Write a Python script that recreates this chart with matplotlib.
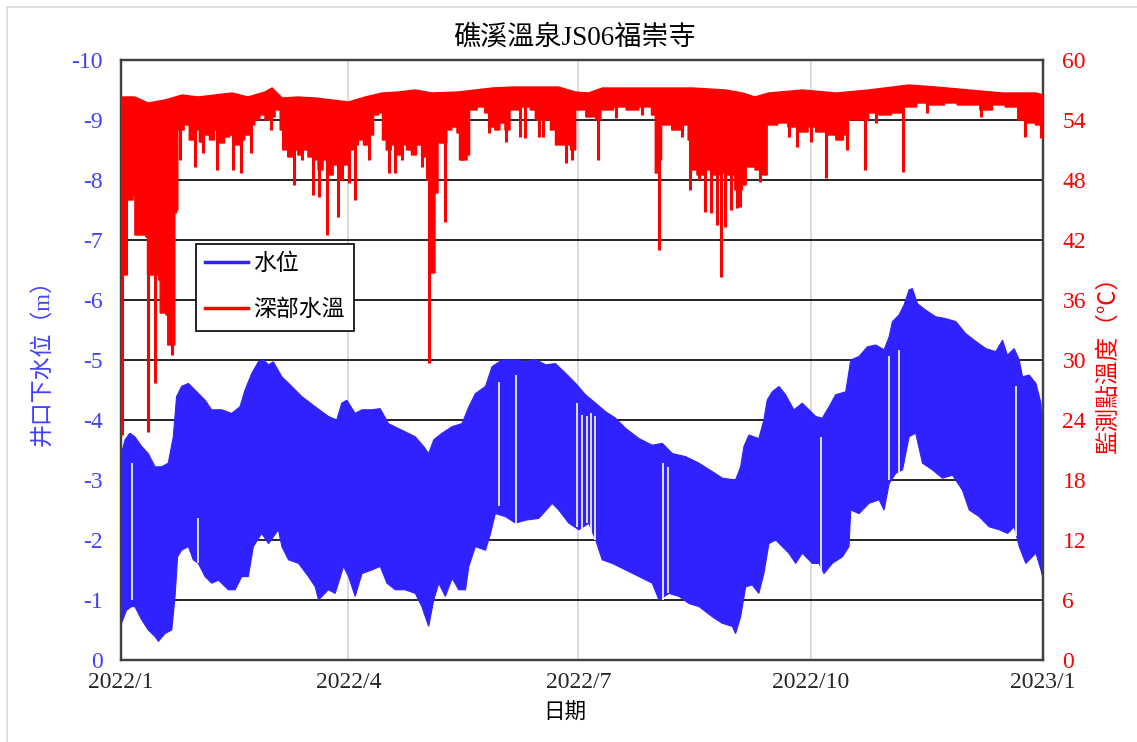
import numpy as np
import matplotlib
matplotlib.use('Agg')
import matplotlib.pyplot as plt
import matplotlib.dates as mdates
from matplotlib.lines import Line2D
from matplotlib.patches import Rectangle
from datetime import datetime

plt.rcParams['font.family'] = ['Liberation Serif', 'Noto Sans CJK TC']
plt.rcParams['axes.unicode_minus'] = False

# ---- data (days counted from 2022/1/1) ----
title = '礁溪溫泉JS06福崇寺'
x_label = '日期'
left_label = '井口下水位（m）'
right_label = '監測點溫度（℃）'
series_names = ['水位', '深部水溫']

tick_dates = [datetime(2022, 1, 1), datetime(2022, 4, 1), datetime(2022, 7, 1),
              datetime(2022, 10, 1), datetime(2023, 1, 1)]
tick_labels = ['2022/1', '2022/4', '2022/7', '2022/10', '2023/1']
level_ticks = [0, -1, -2, -3, -4, -5, -6, -7, -8, -9, -10]
temp_ticks = [0, 6, 12, 18, 24, 30, 36, 42, 48, 54, 60]

# water level, upper envelope (m below wellhead)
level_top_days = [0.2, 1.6, 3.5, 5.5, 8.2, 10.8, 13.5, 16.1, 18.7, 20.7, 22.0, 24.0, 26.7, 29.3,
                  33.3, 35.9, 39.9, 43.8, 47.1, 49.1, 51.8, 54.4, 56.4, 58.4, 60.3, 63.7, 67.6,
                  71.6, 76.9, 82.1, 85.4, 87.4, 89.4, 92.7, 95.4, 99.3, 102.6, 105.9, 111.2,
                  116.5, 119.8, 121.8, 123.8, 127.1, 131.1, 135.0, 137.7, 140.3, 144.3, 146.9,
                  150.9, 156.2, 160.1, 164.1, 168.1, 172.0, 176.0, 180.0, 183.9, 187.9, 191.8,
                  195.8, 199.8, 205.1, 210.3, 214.3, 218.3, 223.5, 228.8, 234.1, 238.1, 243.3,
                  245.3, 246.6, 248.6, 250.6, 252.5, 254.5, 255.8, 257.8, 260.5, 263.1, 266.4,
                  269.7, 272.4, 275.0, 277.6, 280.3, 282.9, 286.9, 288.9, 292.2, 295.5, 298.8,
                  302.1, 304.1, 305.4, 308.0, 310.0, 312.0, 313.3, 315.3, 318.6, 322.6, 326.5,
                  330.5, 334.4, 338.4, 342.4, 346.3, 349.0, 350.9, 353.6, 355.6, 356.9, 359.5,
                  362.2, 364.2, 364.8]
level_top = [3.44, 3.67, 3.78, 3.72, 3.56, 3.44, 3.22, 3.22, 3.28, 3.72, 4.39, 4.56, 4.61, 4.50,
             4.33, 4.17, 4.17, 4.11, 4.22, 4.50, 4.78, 4.97, 5.00, 4.92, 4.97, 4.72, 4.56,
             4.39, 4.22, 4.06, 4.00, 4.28, 4.33, 4.11, 4.17, 4.17, 4.19, 3.94, 3.83,
             3.72, 3.56, 3.44, 3.67, 3.78, 3.89, 3.94, 4.22, 4.44, 4.56, 4.89,
             5.00, 5.00, 4.97, 5.01, 4.92, 4.94, 4.78, 4.61, 4.42, 4.28, 4.14,
             4.03, 3.86, 3.69, 3.58, 3.61, 3.44, 3.39, 3.28, 3.14, 3.03, 3.00,
             3.22, 3.56, 3.75, 3.72, 3.69, 4.00, 4.33, 4.47, 4.56, 4.42, 4.17,
             4.28, 4.17, 4.06, 4.03, 4.22, 4.42, 4.47, 5.00, 5.06, 5.22, 5.25,
             5.17, 5.39, 5.64, 5.75, 5.92, 6.17, 6.19, 5.94, 5.83, 5.72, 5.69,
             5.64, 5.44, 5.31, 5.19, 5.14, 5.33, 5.08, 5.19, 5.00, 4.72, 4.75,
             4.61, 4.28, 3.78]

# water level, lower envelope
level_low_days = [0.2, 2.2, 4.2, 5.5, 8.2, 10.8, 13.5, 14.8, 17.4, 20.1, 21.4, 22.4, 24.0, 26.7,
                  28.6, 30.6, 33.3, 35.9, 38.6, 42.5, 45.2, 47.8, 50.4, 52.4, 55.7, 58.4, 62.3,
                  63.7, 66.3, 70.3, 74.2, 76.9, 78.2, 82.1, 84.8, 88.1, 90.1, 92.7, 95.4, 99.3,
                  102.6, 105.3, 108.6, 112.5, 116.5, 119.1, 121.8, 123.8, 125.8, 128.4, 131.1,
                  133.7, 136.4, 137.7, 140.3, 144.3, 146.3, 148.2, 152.2, 156.2, 160.1, 165.4,
                  170.7, 173.3, 177.3, 181.3, 185.2, 187.9, 190.5, 194.5, 199.8, 205.1, 210.3,
                  213.0, 216.9, 220.9, 224.9, 228.8, 234.1, 238.1, 242.0, 243.3, 245.3, 247.3,
                  249.9, 252.5, 254.5, 256.5, 259.2, 261.8, 264.4, 267.1, 269.7, 273.7, 276.3,
                  278.3, 281.6, 285.6, 288.2, 288.9, 292.2, 296.1, 300.1, 302.1, 304.1, 306.7,
                  309.4, 312.0, 314.6, 317.3, 321.2, 325.2, 329.2, 333.1, 335.8, 339.7, 343.7,
                  347.7, 351.0, 353.6, 355.6, 358.2, 362.2, 364.2, 364.8]
level_low = [0.61, 0.83, 0.89, 0.89, 0.67, 0.50, 0.39, 0.31, 0.44, 0.50, 1.06, 1.72, 1.83, 1.89,
             1.67, 1.61, 1.39, 1.28, 1.33, 1.17, 1.17, 1.39, 1.39, 1.89, 2.11, 1.94, 2.17,
             1.89, 1.67, 1.61, 1.39, 1.22, 1.00, 1.17, 1.11, 1.56, 1.39, 1.06, 1.44, 1.50,
             1.56, 1.28, 1.17, 1.17, 1.11, 0.89, 0.56, 1.00, 1.28, 1.06, 1.36,
             1.17, 1.17, 1.56, 1.89, 1.83, 2.11, 2.44, 2.39, 2.28, 2.33, 2.36,
             2.61, 2.50, 2.28, 2.17, 2.28, 2.00, 1.67, 1.61, 1.50, 1.39, 1.28,
             1.00, 1.11, 1.06, 0.94, 0.89, 0.72, 0.61, 0.56, 0.44, 0.72, 1.22,
             1.25, 1.11, 1.44, 1.94, 2.00, 1.89, 1.78, 1.61, 1.78, 1.61, 1.61,
             1.44, 1.61, 1.72, 1.89, 2.50, 2.44, 2.61, 2.67, 2.50, 2.94, 3.11,
             3.17, 3.72, 3.78, 3.28, 3.17, 3.03, 3.08, 2.83, 2.50, 2.39, 2.22,
             2.17, 2.11, 2.22, 1.89, 1.61, 1.78, 1.50, 1.40]

# short breaks in the water level record: day, top, bottom (m)
gap_days = [4.5, 30.4, 149.5, 156.4, 180.6, 182.6, 184.6, 185.9, 187.6, 214.6, 216.5,
            277.0, 304.1, 308.0, 354.3]
gap_top = [3.28, 2.36, 4.64, 4.75, 4.28, 4.08, 4.06, 4.11, 4.06, 3.28, 3.22,
           3.72, 5.06, 5.17, 4.56]
gap_bottom = [1.00, 1.61, 2.56, 2.22, 2.22, 2.17, 2.28, 2.11, 2.00, 1.00, 1.11,
              1.44, 3.00, 3.08, 2.06]

# deep water temperature, upper envelope (degC)
temp_top_days = [0.0, 5.5, 10.7, 17.4, 24.2, 30.5, 37.3, 44.0, 50.3, 57.0, 59.8, 63.8, 70.1,
                 76.9, 83.6, 90.0, 96.7, 103.4, 109.8, 116.5, 123.2, 133.5, 147.0, 155.0,
                 166.8, 173.2, 179.9, 185.0, 190.6, 199.7, 212.8, 226.3, 239.4, 246.1, 251.0,
                 256.4, 269.9, 283.0, 296.0, 311.9, 322.6, 335.7, 349.1, 362.2, 365.0]
temp_top = [56.3, 56.3, 55.7, 56.0, 56.5, 56.3, 56.5, 56.7, 56.3, 56.8, 57.2, 56.2, 56.3,
            56.2, 56.0, 55.8, 56.3, 56.7, 56.8, 57.0, 56.7, 56.8, 57.2, 57.3,
            57.3, 57.3, 56.8, 56.7, 57.2, 57.2, 57.2, 57.2, 57.0, 56.7, 56.3,
            56.7, 57.0, 56.7, 57.0, 57.5, 57.3, 57.0, 56.7, 56.7, 56.5]

# deep water temperature, lower edge of the dense band
temp_low_days = [0.0, 1.8, 2.5, 4.8, 5.5, 9.8, 10.5, 14.8, 15.5, 17.8, 18.5, 21.0, 21.3, 22.0,
                 22.5, 25.0, 27.0, 29.0, 31.0, 33.0, 35.0, 37.0, 39.0, 41.0, 43.0, 45.0,
                 47.0, 49.0, 51.0, 53.0, 55.0, 57.0, 59.0, 61.0, 63.0, 64.0, 66.0, 68.0,
                 70.0, 72.0, 74.0, 76.0, 78.0, 80.0, 82.0, 84.0, 86.0, 88.0, 90.0, 92.0,
                 94.0, 96.0, 98.0, 100.0, 102.0, 103.5, 105.0, 107.0, 109.0, 111.0, 113.0,
                 115.0, 117.0, 119.0, 121.0, 122.0, 123.8, 124.3, 125.5, 127.5, 129.0,
                 131.0, 133.0, 134.0, 137.0, 138.0, 141.0, 144.0, 146.0, 148.0, 150.0,
                 152.0, 154.0, 158.0, 162.0, 164.0, 168.0, 170.0, 172.0, 175.0, 178.0,
                 180.0, 184.0, 188.0, 190.0, 195.0, 200.0, 205.0, 210.0, 211.5, 213.5,
                 214.0, 218.0, 222.0, 224.5, 225.5, 228.0, 231.0, 234.0, 237.0, 240.0,
                 243.0, 246.0, 247.5, 251.0, 254.0, 255.8, 260.0, 264.0, 268.0, 272.0,
                 275.0, 279.0, 283.0, 286.0, 288.0, 293.0, 296.0, 300.0, 305.0, 309.0,
                 315.0, 320.0, 326.0, 331.0, 336.0, 340.0, 345.0, 350.0, 355.0, 358.0,
                 362.0, 365.0]
temp_low = [38.5, 38.5, 46.0, 46.5, 42.5, 42.3, 38.5, 38.0, 34.7, 34.5, 31.5, 31.5, 44.7, 45.0,
            53.0, 53.5, 52.0, 53.0, 51.8, 52.5, 52.0, 53.0, 51.7, 52.3, 52.5, 51.5,
            52.0, 52.5, 53.5, 54.0, 54.5, 54.0, 54.3, 55.0, 53.0, 51.0, 50.3, 51.0,
            50.5, 51.0, 50.3, 50.0, 49.0, 50.0, 48.5, 49.5, 48.0, 49.5, 51.0, 51.5,
            52.0, 51.5, 52.5, 54.5, 54.7, 52.0, 51.0, 51.5, 50.5, 51.5, 51.0,
            50.5, 51.5, 50.3, 48.0, 38.7, 38.7, 46.7, 51.7, 51.7, 53.0,
            53.3, 52.7, 50.0, 50.5, 55.0, 55.3, 54.7, 53.3, 53.0, 53.7,
            53.0, 55.0, 55.3, 55.0, 54.0, 54.0, 53.0, 51.5, 51.5, 51.0,
            55.0, 54.3, 54.0, 55.0, 55.3, 55.0, 55.3, 54.5, 48.7, 50.0,
            53.5, 53.0, 53.5, 52.0, 49.0, 48.5, 49.0, 48.5, 48.7, 48.5,
            47.0, 47.5, 49.3, 49.0, 48.5, 53.5, 53.7, 53.3, 52.8, 53.3,
            52.8, 52.5, 52.0, 52.5, 54.0, 54.0, 54.7, 54.5, 54.7, 55.3,
            55.7, 55.5, 55.7, 55.5, 55.5, 55.0, 55.5, 55.3, 54.0, 53.7,
            53.5, 53.0]

# isolated downward temperature spikes: day, minimum (degC)
spike_days = [0.5, 10.7, 13.5, 20.3, 23.4, 29.3, 32.6, 37.9, 44.5, 47.5, 51.5, 59.4, 68.3,
              71.6, 76.2, 78.2, 81.5, 86.1, 90.1, 92.7, 98.0, 105.9, 108.6, 111.2, 119.1,
              122.1, 128.4, 135.0, 145.6, 152.5, 158.1, 160.1, 165.4, 167.0, 176.0, 178.6,
              188.9, 195.8, 206.4, 213.0, 222.2, 225.3, 228.8, 231.2, 233.4, 236.1, 237.7,
              239.0, 241.4, 244.0, 245.0, 252.8, 264.4, 267.7, 273.0, 279.0, 287.6, 294.6,
              298.8, 309.6, 318.9, 340.4, 358.0, 364.2]
spike_temp = [22.5, 22.8, 27.7, 30.5, 50.0, 49.3, 50.7, 49.0, 49.0, 48.7, 50.7, 53.0, 47.5,
              50.0, 46.5, 46.3, 42.5, 44.3, 47.7, 46.0, 50.0, 48.7, 48.7, 50.0, 49.3,
              29.7, 43.8, 50.0, 52.7, 51.8, 52.3, 52.2, 52.3, 52.3, 49.7, 50.0,
              50.0, 54.2, 54.5, 41.0, 52.3, 47.0, 48.0, 44.8, 44.7, 43.5, 38.3,
              43.3, 45.0, 45.2, 45.3, 47.8, 52.3, 51.3, 51.8, 48.2, 51.0, 49.0,
              53.7, 48.8, 54.7, 54.3, 52.3, 52.2]

blue = '#3022ff'
red = '#ff0000'
blue_text = '#4040ff'

t0 = mdates.date2num(datetime(2022, 1, 1))
def to_x(days):
    return t0 + np.asarray(days, dtype=float)

fig = plt.figure(figsize=(11.37, 7.42), dpi=100)
ax = fig.add_axes([121 / 1137, 82 / 742, 922 / 1137, 600 / 742])
ax2 = ax.twinx()

# water level band
poly_x = np.concatenate([to_x(level_top_days), to_x(level_low_days)[::-1]])
poly_y = np.concatenate([-np.array(level_top), -np.array(level_low)[::-1]])
ax.fill(poly_x, poly_y, color=blue, lw=0.8, zorder=3)
ax.vlines(to_x(gap_days), -np.array(gap_top), -np.array(gap_bottom),
          color='white', lw=1.2, zorder=4)

# temperature band (lower edge drawn as steps) + spikes
low_x = np.repeat(to_x(temp_low_days), 2)[1:]
low_y = np.repeat(temp_low, 2)[:-1]
tx = np.concatenate([to_x(temp_top_days), low_x[::-1]])
ty = np.concatenate([temp_top, low_y[::-1]])
ax2.fill(tx, ty, color=red, lw=1.0, zorder=3)
top_at_spike = np.interp(spike_days, temp_top_days, temp_top)
ax2.vlines(to_x(spike_days), spike_temp, top_at_spike, color=red, lw=2.2, zorder=3)

# axes setup
ax.set_xlim(t0, t0 + 365)
ax.set_ylim(0, -10)
ax2.set_ylim(0, 60)
ax.set_xticks([mdates.date2num(d) for d in tick_dates])
ax.set_xticklabels(tick_labels, fontsize=17, color='#262626')
ax.set_yticks(level_ticks)
ax.set_yticklabels([str(v) for v in level_ticks], fontsize=17, color=blue_text)
ax2.set_yticks(temp_ticks)
ax2.set_yticklabels([str(v) for v in temp_ticks], fontsize=17, color=red)
ax.tick_params(axis='x', length=0, pad=9)
ax.tick_params(axis='y', length=0, pad=13)
ax2.tick_params(axis='y', length=0, pad=14)

ax.set_axisbelow(True)
ax.grid(axis='y', color='black', lw=1.2, zorder=1)
ax.grid(axis='x', color='#d9d9d9', lw=1.3, zorder=0)
for a in (ax, ax2):
    for s in a.spines.values():
        s.set_color('#404040')
        s.set_linewidth(1.6)

fig.text(574 / 1137, 1 - 38 / 742, title, fontsize=19.5, ha='center', va='center')
fig.text(565 / 1137, 1 - 714 / 742, x_label, fontsize=15.5, ha='center', va='center')
fig.text(42 / 1137, 1 - 357 / 742, left_label, fontsize=16.5, color=blue_text,
         rotation=90, ha='center', va='center')
fig.text(1108 / 1137, 1 - 359 / 742, right_label, fontsize=17, color=red,
         rotation=90, ha='center', va='center')

handles = [Line2D([], [], color=blue, lw=2.5), Line2D([], [], color=red, lw=2.5)]
leg = ax2.legend(handles, series_names, loc='upper left', bbox_to_anchor=(0.081, 0.693),
                 fontsize=16.5, frameon=True, fancybox=False, framealpha=1,
                 edgecolor='black', handlelength=1.9, handletextpad=0.2,
                 labelspacing=1.1, borderpad=0.4, borderaxespad=0)
leg.get_frame().set_linewidth(1.2)
leg.set_zorder(10)

fig.patches.append(Rectangle((7 / 1137, -0.05), 1.05, 1.05 - 7 / 742, fill=False,
                             edgecolor='#d9d9d9', lw=1.2, transform=fig.transFigure))

fig.savefig('out.png', dpi=100)
